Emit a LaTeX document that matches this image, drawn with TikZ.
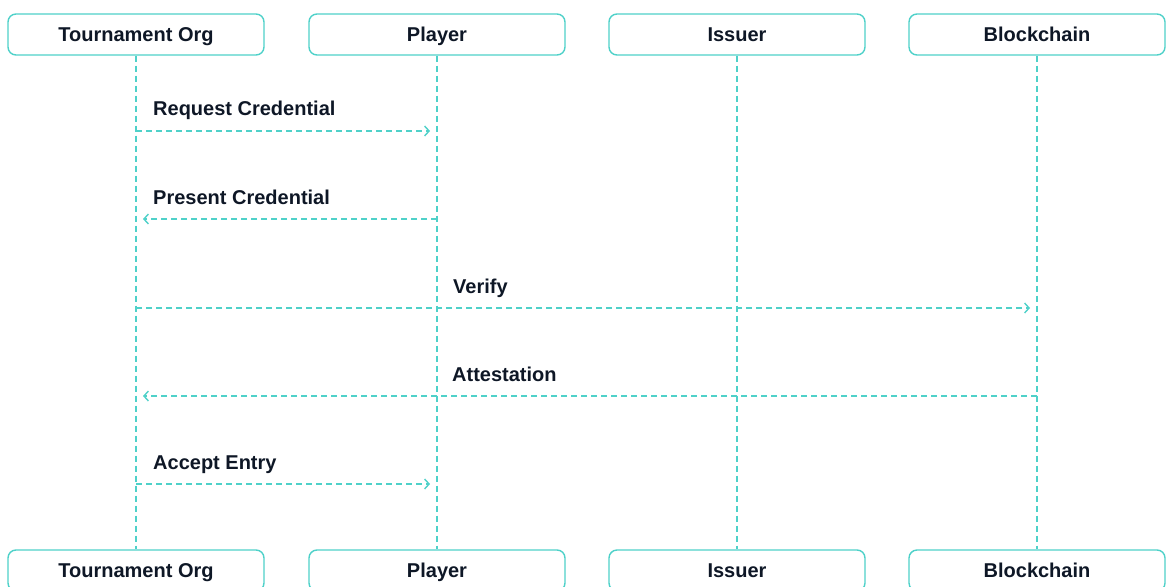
\documentclass[tikz,border=0pt]{standalone}
\usepackage{fontspec}
\setmainfont{Liberation Sans}
\usetikzlibrary{arrows.meta}
\definecolor{teal}{HTML}{4FD1C9}
\definecolor{ink}{HTML}{0E1726}
\tikzset{
  actor/.style={draw=teal, line width=1.4pt, rounded corners=8pt, fill=white,
    minimum width=256pt, minimum height=41pt, inner sep=0pt,
    text height=14pt, text depth=0pt,
    font=\bfseries\fontsize{20}{22}\selectfont, text=ink},
  lifeline/.style={draw=teal, line width=1.4pt, dash pattern=on 6pt off 4pt},
  msg/.style={draw=teal, line width=1.3pt, dash pattern=on 6pt off 4pt,
    -{Straight Barb[length=4.5pt,width=10pt,line width=1.4pt]}, shorten >=7pt},
  msglabel/.style={anchor=west, inner sep=0pt, text height=14pt, text depth=0pt,
    font=\bfseries\fontsize{20}{22}\selectfont, text=ink}
}
\begin{document}
\begin{tikzpicture}[x=1pt,y=-1pt]
\useasboundingbox (0,0) rectangle (1166,586);
% participants, top row
\node[actor] (orgT) at (136,34.5) {Tournament Org};
\node[actor] (plT)  at (437,34.5) {Player};
\node[actor] (isT)  at (737,34.5) {Issuer};
\node[actor] (bcT)  at (1037,34.5) {Blockchain};
% participants, bottom row
\node[actor] (orgB) at (136,570.5) {Tournament Org};
\node[actor] (plB)  at (437,570.5) {Player};
\node[actor] (isB)  at (737,570.5) {Issuer};
\node[actor] (bcB)  at (1037,570.5) {Blockchain};
% lifelines
\draw[lifeline] (orgT.south) -- (orgB.north);
\draw[lifeline] (plT.south) -- (plB.north);
\draw[lifeline] (isT.south) -- (isB.north);
\draw[lifeline] (bcT.south) -- (bcB.north);
% message anchor points on the lifelines
\foreach \n/\y in {1/131,2/219,3/308,4/396,5/484}{
  \coordinate (org\n) at (orgT.south |- 0,\y);
  \coordinate (pl\n)  at (plT.south |- 0,\y);
  \coordinate (bc\n)  at (bcT.south |- 0,\y);
}
% messages
\draw[msg] (org1) -- (pl1);
\node[msglabel] (l1) at (153,108) {Request Credential};
\draw[msg] (pl2) -- (org2);
\node[msglabel] (l2) at (153,197) {Present Credential};
\draw[msg] (org3) -- (bc3);
\node[msglabel] (l3) at (453,286) {Verify};
\draw[msg] (bc4) -- (org4);
\node[msglabel] (l4) at (452,374) {Attestation};
\draw[msg] (org5) -- (pl5);
\node[msglabel] (l5) at (153,462) {Accept Entry};
\end{tikzpicture}
\end{document}
